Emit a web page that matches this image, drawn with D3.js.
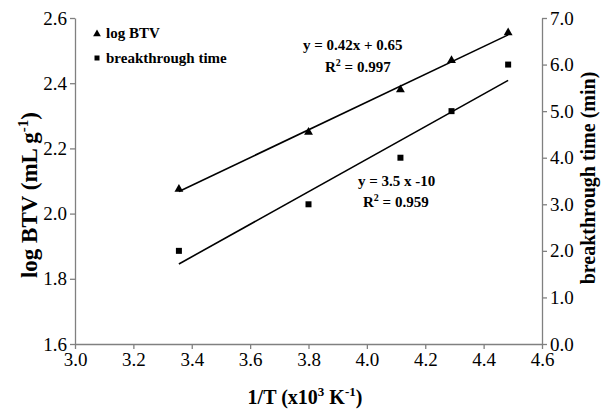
<!DOCTYPE html>
<html><head><meta charset="utf-8">
<script src="https://cdn.jsdelivr.net/npm/d3@7"></script>
<style>
body{margin:0;background:#fff;}
svg{display:block;font-family:"Liberation Serif","Times New Roman",serif;}
</style></head>
<body>
<svg id="chart" width="601" height="410"></svg>
<script>
// Data
const invT = [3.356, 3.80, 4.115, 4.29, 4.484];
const logBTV = [2.075, 2.25, 2.38, 2.47, 2.555];
const breakthroughTime = [2.0, 3.0, 4.0, 5.0, 6.0];
const xTicks = [3.0, 3.2, 3.4, 3.6, 3.8, 4.0, 4.2, 4.4, 4.6];
const yLeftTicks = [1.6, 1.8, 2.0, 2.2, 2.4, 2.6];
const yRightTicks = [0, 1, 2, 3, 4, 5, 6, 7];

const svg = d3.select("#chart");
const x = d3.scaleLinear().domain([3.0, 4.6]).range([75, 542]);
const yL = d3.scaleLinear().domain([1.6, 2.6]).range([344, 18]);
const yR = d3.scaleLinear().domain([0, 7]).range([344, 18]);

const axisColor = "#808080";
function styleAxis(g){
  g.selectAll("path,line").attr("stroke", axisColor).attr("stroke-width", 1.3);
  g.selectAll("text").attr("fill", "#000").attr("font-size", 19)
    .attr("font-family", "Liberation Serif, serif");
}
svg.append("g").attr("transform", "translate(0,344)")
  .call(d3.axisBottom(x).tickValues(xTicks).tickFormat(d3.format(".1f")).tickSize(5).tickSizeOuter(0).tickPadding(4))
  .call(styleAxis);
svg.append("g").attr("transform", "translate(75,0)")
  .call(d3.axisLeft(yL).tickValues(yLeftTicks).tickFormat(d3.format(".1f")).tickSize(5).tickSizeOuter(0).tickPadding(3))
  .call(styleAxis);
svg.append("g").attr("transform", "translate(542,0)")
  .call(d3.axisRight(yR).tickValues(yRightTicks).tickFormat(d3.format(".1f")).tickSize(5).tickSizeOuter(0).tickPadding(3))
  .call(styleAxis);

// linear regression for trendlines
function fit(xs, ys){
  const mx = d3.mean(xs), my = d3.mean(ys);
  let sxy = 0, sxx = 0;
  xs.forEach((v,i)=>{ sxy += (v-mx)*(ys[i]-my); sxx += (v-mx)*(v-mx); });
  const m = sxy/sxx; return {m, b: my - m*mx};
}
const x0 = d3.min(invT), x1 = d3.max(invT);
const f1 = fit(invT, logBTV), f2 = fit(invT, breakthroughTime);
svg.append("line").attr("x1", x(x0)).attr("y1", yL(f1.m*x0+f1.b))
  .attr("x2", x(x1)).attr("y2", yL(f1.m*x1+f1.b)).attr("stroke", "#000").attr("stroke-width", 1.6);
svg.append("line").attr("x1", x(x0)).attr("y1", yR(f2.m*x0+f2.b))
  .attr("x2", x(x1)).attr("y2", yR(f2.m*x1+f2.b)).attr("stroke", "#000").attr("stroke-width", 1.6);

const tri = d3.symbol().type(d3.symbolTriangle).size(34);
const sq = d3.symbol().type(d3.symbolSquare).size(36);
svg.append("g").selectAll("path").data(invT).join("path")
  .attr("d", tri).attr("fill", "#000")
  .attr("transform", (d,i)=>`translate(${x(d)},${yL(logBTV[i])})`);
svg.append("g").selectAll("path").data(invT).join("path")
  .attr("d", sq).attr("fill", "#000")
  .attr("transform", (d,i)=>`translate(${x(d)},${yR(breakthroughTime[i])})`);

// legend
const leg = svg.append("g").attr("font-weight", "bold").attr("font-size", 15);
leg.append("path").attr("d", d3.symbol().type(d3.symbolTriangle).size(26)).attr("transform", "translate(97,34)");
leg.append("text").attr("x", 106).attr("y", 38).text("log BTV");
leg.append("path").attr("d", d3.symbol().type(d3.symbolSquare).size(25)).attr("transform", "translate(97,58)");
leg.append("text").attr("x", 106).attr("y", 63).text("breakthrough time");

// equations
const eq = svg.append("g").attr("font-weight", "bold").attr("font-size", 15);
eq.append("text").attr("x", 303).attr("y", 50).text("y = 0.42x + 0.65");
const r1 = eq.append("text").attr("x", 325).attr("y", 72);
r1.append("tspan").text("R");
r1.append("tspan").attr("dy", -6).attr("font-size", 10).text("2");
r1.append("tspan").attr("dy", 6).text(" = 0.997");
eq.append("text").attr("x", 358).attr("y", 186).text("y = 3.5 x -10");
const r2 = eq.append("text").attr("x", 363).attr("y", 207);
r2.append("tspan").text("R");
r2.append("tspan").attr("dy", -6).attr("font-size", 10).text("2");
r2.append("tspan").attr("dy", 6).text("  = 0.959");

// axis titles
const xt = svg.append("text").attr("x", 305).attr("y", 404).attr("text-anchor", "middle")
  .attr("font-weight", "bold").attr("font-size", 20);
xt.append("tspan").text("1/T (x10");
xt.append("tspan").attr("dy", -8).attr("font-size", 13).text("3");
xt.append("tspan").attr("dy", 8).text(" K");
xt.append("tspan").attr("dy", -8).attr("font-size", 13).text("-1");
xt.append("tspan").attr("dy", 8).text(")");

const yt = svg.append("text").attr("transform", "translate(37,195) rotate(-90)").attr("text-anchor", "middle")
  .attr("font-weight", "bold").attr("font-size", 23);
yt.append("tspan").text("log BTV (mL g");
yt.append("tspan").attr("dy", -9).attr("font-size", 15).text("-1");
yt.append("tspan").attr("dy", 9).text(")");

svg.append("text").attr("transform", "translate(595,178) rotate(-90)").attr("text-anchor", "middle")
  .attr("font-weight", "bold").attr("font-size", 20).text("breakthrough time (min)");
</script>
</body></html>
